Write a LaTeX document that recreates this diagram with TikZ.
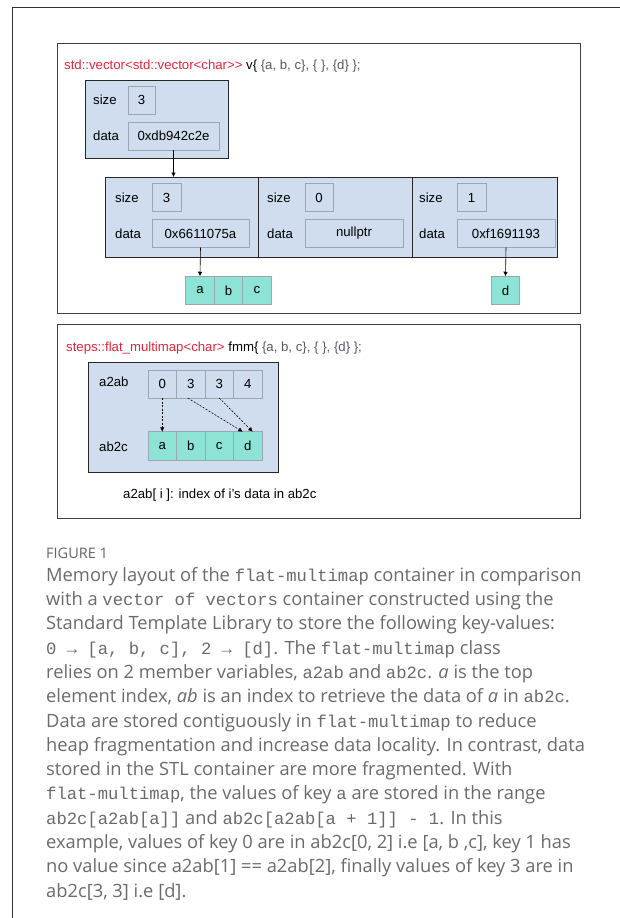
\documentclass[tikz,border=0pt]{standalone}
\usepackage{fontspec}
\usepackage{xcolor}
\usetikzlibrary{arrows.meta,positioning}
\setmainfont{Liberation Sans}
\newfontfamily\capfont{Open Sans}
\newfontfamily\capmono{Liberation Mono}[Scale=0.94]
\newcommand{\m}[1]{{\capmono #1}}
\definecolor{titlered}{HTML}{E5243B}
\definecolor{codegray}{HTML}{555B63}
\definecolor{panelblue}{HTML}{CFDDEE}
\definecolor{cellteal}{HTML}{8DE3D5}
\definecolor{boxgray}{HTML}{9AA6B2}
\definecolor{capgray}{HTML}{6A6A6A}
\definecolor{figgray}{HTML}{666666}

\begin{document}
\begin{tikzpicture}[x=1pt,y=-1pt,
  frame/.style={draw=black!75,line width=0.9pt},
  panel/.style={draw=black!85,fill=panelblue,line width=0.9pt,outer sep=0pt},
  valbox/.style={draw=boxgray,line width=0.6pt,minimum height=28pt,inner sep=0pt,outer sep=0pt},
  cell/.style={draw=boxgray,fill=cellteal,line width=0.6pt,minimum width=28.5pt,minimum height=28.5pt,inner sep=0pt,outer sep=0pt},
  lbl/.style={anchor=west,inner sep=0pt},
  ptr/.style={-{Latex[length=4.5pt,width=4.5pt]},line width=0.6pt},
  idx/.style={-{Latex[length=4.5pt,width=4.5pt]},line width=0.6pt,dash pattern=on 2pt off 1.5pt},
  font=\fontsize{13.2}{15}\selectfont]
  \useasboundingbox (0,0) rectangle (620,918);
  \draw[line width=1pt,black!80] (620,7) -- (12,7) -- (12,918);

  \draw[frame] (57,43) rectangle (580,313);
  \node[lbl] (vtitle) at (64,66) {\textcolor{titlered}{std::vector<std::vector<char>{}>} v\{ \textcolor{codegray}{\{a, b, c\}, \{ \}, \{d\} \};}};

  \draw[panel] (85,80) rectangle (228,158);
  \node[lbl] (vsizel) at (93,100) {size};
  \node[valbox,minimum width=27pt] (vsize) at (141.5,100) {3};
  \node[lbl] (vdatal) at (93,136) {data};
  \node[valbox,minimum width=91pt] (vdata) at (173.5,136) {0xdb942c2e};

  \node[panel,minimum width=153pt,minimum height=80pt] (row0) at (181.5,217) {};
  \node[panel,minimum width=154pt,minimum height=80pt] (row1) at (335,217) {};
  \node[panel,minimum width=145pt,minimum height=80pt] (row2) at (484.5,217) {};

  \node[lbl] (sizel0) at (115,197.5) {size};
  \node[valbox,minimum width=29pt] (size0) at (166.5,197.5) {3};
  \node[lbl] (datal0) at (115,233.5) {data};
  \node[valbox,minimum width=97pt] (data0) at (200.5,233.5) {0x6611075a};

  \node[lbl] (sizel1) at (267,197.5) {size};
  \node[valbox,minimum width=28pt] (size1) at (319,197.5) {0};
  \node[lbl] (datal1) at (267,233.5) {data};
  \node[valbox,minimum width=98pt] (data1) at (354,233.5) {nullptr};

  \node[lbl] (sizel2) at (419,197.5) {size};
  \node[valbox,minimum width=29pt] (size2) at (471.5,197.5) {1};
  \node[lbl] (datal2) at (419,233.5) {data};
  \node[valbox,minimum width=98pt] (data2) at (506,233.5) {0xf1691193};

  \node[cell] (va) at (200,290.5) {a};
  \node[cell,right=0pt of va] (vb) {b};
  \node[cell,right=0pt of vb] (vc) {c};
  \node[cell] (vd) at (505.5,290.5) {d};

  \draw[ptr] (vdata.south) -- (vdata.south |- row0.north);
  \draw[ptr] (data0.south) -- (va.north);
  \draw[ptr] (data2.south) -- (vd.north);

  \draw[frame] (57,324) rectangle (580,518);
  \node[lbl] (ftitle) at (66,348) {\textcolor{titlered}{steps::flat\_multimap<char>} fmm\{ \textcolor{codegray}{\{a, b, c\}, \{ \}, \{d\} \};}};

  \draw[panel] (88,362) rectangle (278,472);
  \node[lbl] (keyl) at (99,382) {a2ab};
  \node[lbl] (vall) at (99,447) {ab2c};
  \node[valbox,minimum width=28.5pt] (k0) at (162.25,384) {0};
  \node[valbox,minimum width=28.5pt,right=0pt of k0] (k1) {3};
  \node[valbox,minimum width=28.5pt,right=0pt of k1] (k2) {3};
  \node[valbox,minimum width=28.5pt,right=0pt of k2] (k3) {4};
  \node[cell] (c0) at (162.25,446) {a};
  \node[cell,right=0pt of c0] (c1) {b};
  \node[cell,right=0pt of c1] (c2) {c};
  \node[cell,right=0pt of c2] (c3) {d};

  \draw[idx] (k0.south) -- (c0.north);
  \draw[idx] ([xshift=-3pt]k1.south) -- ([xshift=-5pt]c3.north);
  \draw[idx] (k2.south) -- ([xshift=5pt]c3.north);

  \node[lbl] (note) at (123,495) {a2ab[ i ]: index of i's data in ab2c};

  \node[anchor=base west,inner sep=0pt,text=figgray,font=\capfont\fontsize{14.5}{16}\selectfont] (fig) at (46,558) {FIGURE 1};
  \node[anchor=north west,inner sep=0pt,align=left,text=capgray,font=\capfont\fontsize{18.3}{24.3}\selectfont] (cap) at (46,567) {Memory layout of the \m{flat-multimap} container in comparison\\
with a \m{vector of vectors} container constructed using the\\
Standard Template Library to store the following key-values:\\
\m{0 → [a, b, c], 2 → [d]}. The \m{flat-multimap} class\\
relies on 2 member variables, \m{a2ab} and \m{ab2c}. \textit{a} is the top\\
element index, \textit{ab} is an index to retrieve the data of \textit{a} in \m{ab2c}.\\
Data are stored contiguously in \m{flat-multimap} to reduce\\
heap fragmentation and increase data locality. In contrast, data\\
stored in the STL container are more fragmented. With\\
\m{flat-multimap}, the values of key \m{a} are stored in the range\\
\m{ab2c[a2ab[a]]} and \m{ab2c[a2ab[a + 1]] - 1}. In this\\
example, values of key 0 are in ab2c[0, 2] i.e [a, b ,c], key 1 has\\
no value since a2ab[1] == a2ab[2], finally values of key 3 are in\\
ab2c[3, 3] i.e [d].};
\end{tikzpicture}
\end{document}
